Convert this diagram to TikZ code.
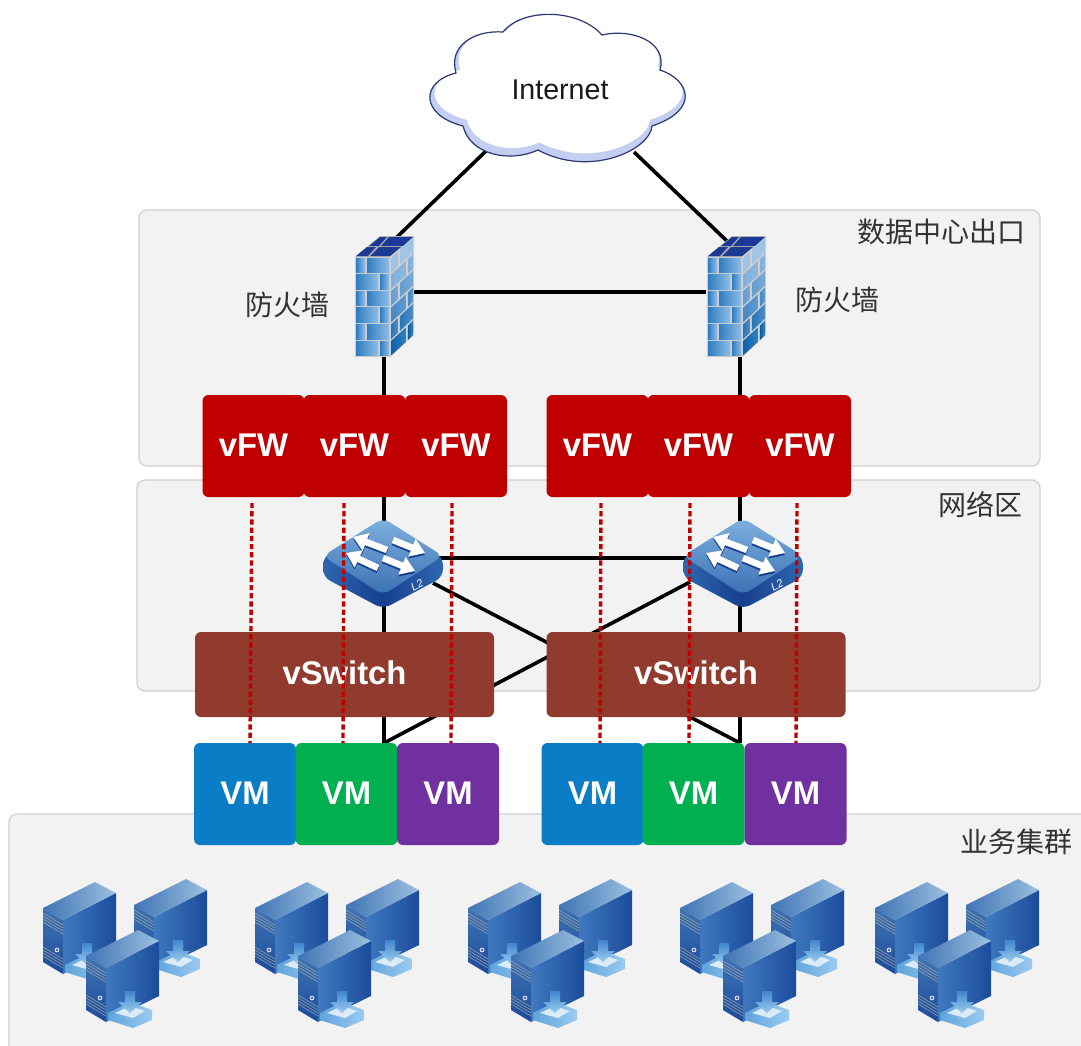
\documentclass[tikz,border=0pt]{standalone}
\usepackage{fontspec}
\setmainfont{Liberation Sans}
\newfontfamily\cjk{Noto Sans CJK SC}
\usetikzlibrary{arrows.meta,calc}
\definecolor{panelfill}{HTML}{F2F2F2}
\definecolor{panelline}{HTML}{CFCFCF}
\definecolor{fwred}{HTML}{C00000}
\definecolor{swbrown}{HTML}{913B2F}
\definecolor{vmblue}{HTML}{0A7DC6}
\definecolor{vmgreen}{HTML}{00B050}
\definecolor{vmpurple}{HTML}{7030A0}
\definecolor{cloudband}{HTML}{C3CEF2}
\definecolor{cloudline}{HTML}{2A3A70}
\definecolor{brickdark}{HTML}{2F7CC0}
\definecolor{bricklight}{HTML}{8DBDE8}
\definecolor{sidedark}{HTML}{0A62AE}
\definecolor{sidelight}{HTML}{A0C4E8}
\definecolor{navytop}{HTML}{1C3A94}
\definecolor{swtopa}{HTML}{7FB0DE}
\definecolor{swtopb}{HTML}{3A70B4}
\definecolor{swsidea}{HTML}{2F66B0}
\definecolor{swsideb}{HTML}{173F8E}
\definecolor{srvlight}{HTML}{3F79BE}
\definecolor{srvdark}{HTML}{1C4C9C}
\definecolor{srvtopa}{HTML}{3F74B4}
\definecolor{srvtopb}{HTML}{9CC0E0}
\definecolor{traycol}{HTML}{5FA4DC}
\definecolor{traylight}{HTML}{DCEBF8}
\definecolor{arrowtop}{HTML}{3F86CC}
\definecolor{arrowbot}{HTML}{9CCBF0}
\tikzset{
  panel/.style={draw=panelline,fill=panelfill,line width=0.6pt,rounded corners=4pt},
  link/.style={draw=black,line width=1.8pt},
  vlink/.style={draw=fwred,line width=1.7pt,dash pattern=on 2.6pt off 1.5pt},
  box/.style={inner sep=0pt,rounded corners=3pt,text=white,text height=11.7pt,text depth=1.5pt,font=\bfseries\fontsize{16.4}{18}\selectfont},
  fwbox/.style={box,fill=fwred,minimum width=51pt,minimum height=51pt},
  vswbox/.style={box,fill=swbrown,minimum width=149.5pt,minimum height=42.5pt},
  vmbox/.style={box,minimum width=51pt,minimum height=51pt},
  zh/.style={font=\cjk\fontsize{14}{16}\selectfont,text=black!80,inner sep=0pt},
  ghost/.style={inner sep=0pt,minimum width=30pt,minimum height=60pt},
  pics/firewallicon/.style={code={
    \fill[black!20] (0,21)--(35,21)--(35,121)--(0,121)--cycle;
    \fill[black!18] (35,21)--(59,0)--(59,99)--(35,121)--cycle;
    \fill[black!30] (0,21)--(25,0)--(59,0)--(35,21)--cycle;
    \fill[navytop] (1,20)--(12,11)--(21,11)--(13,20)--cycle;
    \fill[navytop] (15,20)--(24,11)--(46,11)--(35,20)--cycle;
    \fill[navytop] (14,10)--(25,1)--(32,1)--(24,10)--cycle;
    \fill[navytop] (26,10)--(34,1)--(58,1)--(48,10)--cycle;
    \foreach \r/\a in {0/10,1/23,2/10,3/23,4/10,5/23}{
      \pgfmathsetmacro\yy{22+\r*16.6}
      \shade[left color=brickdark,right color=bricklight]
        (1,\yy) rectangle (\a,\yy+14.6);
      \shade[left color=brickdark,right color=bricklight]
        (\a+2,\yy) rectangle (34,\yy+14.6);
    }
    \foreach \r/\a in {0/.3,1/.65,2/.3,3/.65,4/.3,5/.65}{
      \pgfmathsetmacro\yy{22+\r*16.6}
      \pgfmathsetmacro\xa{36+23*\a}
      \pgfmathsetmacro\xb{38+23*\a}
      \pgfmathsetmacro\ya{\yy-21*\a}
      \pgfmathsetmacro\yb{\yy-21*\a-1.8}
      \pgfmathsetmacro\mixp{int(\r*20)}
      \colorlet{sa}{sidedark!\mixp!sidelight}
      \pgfmathsetmacro\mixq{int(\r*14)}
      \colorlet{sb}{sidedark!\mixq!sidelight}
      \shade[left color=sa,right color=sb]
        (36,\yy)--(\xa,\ya)--(\xa,\ya+14.6)--(36,\yy+14.6)--cycle;
      \shade[left color=sa,right color=sb]
        (\xb,\yb)--(58,\yy-20.5)--(58,\yy-5.9)--(\xb,\yb+14.6)--cycle;
    }
  }},
  pics/l2switch/.style={code={
    \shade[rounded corners=4pt,left color=swsidea,right color=swsidea,middle color=swsideb]
      (0,39)--(0,59)--(60,91)--(120,59)--(120,39)--(60,5)--cycle;
    \shade[rounded corners=4pt,top color=swtopa,bottom color=swtopb]
      (0,38)--(60,0)--(120,38)--(60,77)--cycle;
    \foreach \xa/\ya/\xb/\yb in {64/32/30/19, 70/22/102/35, 55/50/23/35, 60/40/92/53}{
      \draw[line width=3.3pt,draw=swsideb,-{Triangle[length=7pt,width=9pt]}] (\xa,\ya+2)--(\xb,\yb+2);
      \draw[line width=3.3pt,draw=white,-{Triangle[length=7pt,width=9pt]}] (\xa,\ya)--(\xb,\yb);
    }
    \node[rotate=28,text=white,inner sep=0pt,font=\itshape\fontsize{5.5}{6}\selectfont] at (94,67) {L2};
  }},
  pics/server/.style={code={
    \shade[top color=srvtopa,bottom color=srvdark]
      (0,0)--(20,12)--(20,66)--(0,54)--cycle;
    \shade[left color=srvlight,right color=srvdark]
      (20,12)--(73,-15)--(73,40)--(20,66)--cycle;
    \shade[left color=srvtopa,right color=srvtopb]
      (0,0)--(52,-26)--(73,-15)--(20,12)--cycle;
    \foreach \i in {0,...,3}{
      \draw[black!35,line width=.25pt] (0,5+\i*3)--(20,17+\i*3);
      \draw[black!35,line width=.25pt] (0,39+\i*3)--(20,51+\i*3);
    }
    \fill[blue!15!white] (14,42) circle[radius=2.4];
    \fill[srvdark] (14,42) circle[radius=1.1];
    \shade[left color=traycol,right color=arrowbot] (22,57)--(44,46)--(66,54)--(66,64)--(47,72)--(22,64)--cycle;
    \fill[traylight] (29,57)--(44,50)--(59,55)--(47,62)--cycle;
    \shade[top color=arrowtop,bottom color=arrowbot] (39,35)--(49,35)--(49,46)--(56,46)--(44,57)--(32,46)--(39,46)--cycle;
  }},
  pics/cluster/.style={code={
    \pic at (0,0) {server};
    \pic at (91,-3) {server};
    \pic at (43,48) {server};
  }},
}
\begin{document}
\begin{tikzpicture}[x=0.5pt,y=-0.5pt]
\useasboundingbox (0,0) rectangle (1081,1045);
\clip (0,0) rectangle (1081,1045);
\fill[white] (0,0) rectangle (1081,1045);

% zones
\draw[panel] (139,210) rectangle (1040,466);
\draw[panel] (137,480) rectangle (1040,691);
\draw[panel] (9,814) rectangle (1095,1060);

% attachment points
\coordinate (cl) at (487,150);
\coordinate (cr) at (634,152);
\coordinate (fl) at (396,238);
\coordinate (fr) at (728,242);
\coordinate (flr) at (410,292);
\coordinate (frl) at (706,292);
\coordinate (flb) at (384,355);
\coordinate (frb) at (740,355);
\coordinate (vl) at (384,397);
\coordinate (vr) at (740,397);
\coordinate (vlb) at (384,495);
\coordinate (vrb) at (740,495);
\coordinate (sl) at (384,540);
\coordinate (sr) at (740,540);
\coordinate (sls) at (430,558);
\coordinate (srs) at (690,558);
\coordinate (sxl) at (433,583);
\coordinate (sxr) at (690,582);
\coordinate (vml) at (384,743);
\coordinate (vmr) at (740,743);

% connectors
\draw[link] (cl)--(fl);
\draw[link] (cr)--(fr);
\draw[link] (flr)--(frl);
\draw[link] (flb)--(vl);
\draw[link] (frb)--(vr);
\draw[link] (vlb)--(sl);
\draw[link] (vrb)--(sr);
\draw[link] (sls)--(srs);
\draw[link] (sl)--(vml);
\draw[link] (sr)--(vmr);
\draw[link] (sxl)--(vmr);
\draw[link] (sxr)--(vml);

% cloud
\def\cloudpath{(503,32)
  .. controls (522,8) and (578,8) .. (602,35)
  .. controls (632,28) and (668,42) .. (660,70)
  .. controls (690,80) and (700,110) .. (652,126)
  .. controls (650,150) and (590,178) .. (538,150)
  .. controls (510,163) and (470,155) .. (463,126)
  .. controls (420,115) and (420,82) .. (456,73)
  .. controls (448,45) and (475,30) .. (503,32) -- cycle}
\fill[cloudband] \cloudpath;
\begin{scope}
\clip \cloudpath;
\begin{scope}[shift={(559,85)},xscale=.97,yscale=.94,shift={(-558,-89)}]
\fill[white] \cloudpath;
\end{scope}
\end{scope}
\draw[cloudline,line width=0.6pt] \cloudpath;
\node[inner sep=0pt,font=\fontsize{14.3}{16}\selectfont,text=black!90] (cloud) at (560,90) {Internet};

% firewalls
\pic at (355,236) {firewallicon};
\pic at (707,236) {firewallicon};
\node[ghost] (fw1) at (384.5,297) {};
\node[ghost] (fw2) at (736.5,297) {};
\node[zh] (fw1t) at (287,305) {防火墙};
\node[zh] (fw2t) at (837,300) {防火墙};
\node[zh,anchor=east] (zone1) at (1026,232) {数据中心出口};
\node[zh,anchor=east] (zone2) at (1023,505) {网络区};
\node[zh,anchor=east] (zone3) at (1073,842) {业务集群};

% switches
\pic at (323,518) {l2switch};
\pic at (683,518) {l2switch};

% vFW
\node[fwbox] (f1) at (253.5,446) {vFW};
\node[fwbox] (f2) at (354.5,446) {vFW};
\node[fwbox] (f3) at (456,446) {vFW};
\node[fwbox] (f4) at (597.5,446) {vFW};
\node[fwbox] (f5) at (698.5,446) {vFW};
\node[fwbox] (f6) at (800,446) {vFW};

% vSwitch
\node[vswbox] (s1) at (344.5,674.5) {vSwitch};
\node[vswbox] (s2) at (696,674.5) {vSwitch};

% clusters
\foreach \dx in {0,212,425,637,832}{
  \pic at (43+\dx,908) {cluster};
}

% VM
\node[vmbox,fill=vmblue] (m1) at (245,794) {VM};
\node[vmbox,fill=vmgreen] (m2) at (346.5,794) {VM};
\node[vmbox,fill=vmpurple] (m3) at (448,794) {VM};
\node[vmbox,fill=vmblue] (m4) at (592.5,794) {VM};
\node[vmbox,fill=vmgreen] (m5) at (693.5,794) {VM};
\node[vmbox,fill=vmpurple] (m6) at (795.5,794) {VM};

% virtual links
\foreach \n/\xa/\xb in {a/252/250,b/344/343,c/452/451,d/601/600,e/690/689,f/797/796}{
  \coordinate (t\n) at (\xa,503);
  \coordinate (b\n) at (\xb,743);
  \draw[vlink] (t\n)--(b\n);
}
\end{tikzpicture}
\end{document}
